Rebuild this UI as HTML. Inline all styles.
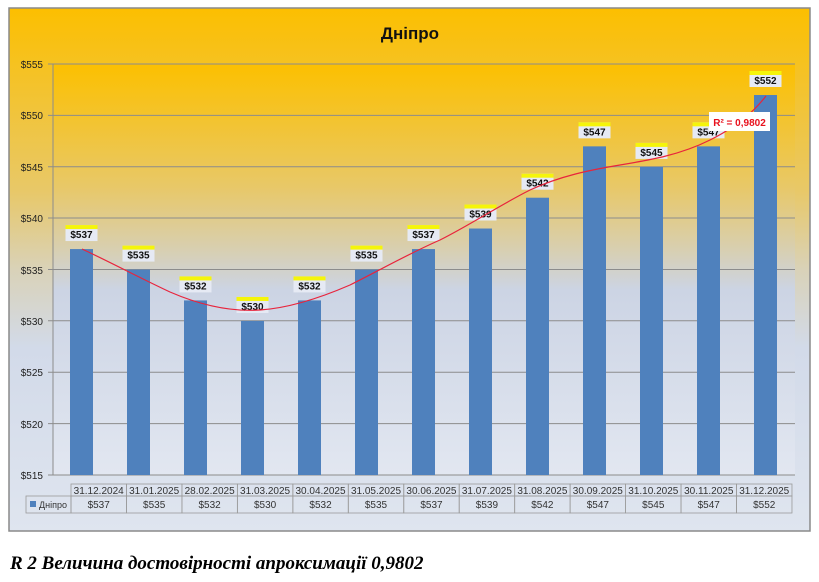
<!DOCTYPE html>
<html><head><meta charset="utf-8"><style>
body{margin:0;width:819px;height:582px;background:#fff;overflow:hidden;font-family:"Liberation Sans",sans-serif}
</style></head><body>
<svg width="819" height="582" xmlns="http://www.w3.org/2000/svg" style="position:absolute;left:0;top:0">
<defs>
<linearGradient id="bg" x1="0" y1="0" x2="0" y2="1">
<stop offset="0" stop-color="#fcbf00"/><stop offset="0.35" stop-color="#e8c868"/><stop offset="0.5" stop-color="#d9d2b8"/><stop offset="0.65" stop-color="#d2dae9"/><stop offset="1" stop-color="#dfe5ef"/></linearGradient>
<linearGradient id="pg" x1="0" y1="0" x2="0" y2="1">
<stop offset="0" stop-color="#fcc000"/><stop offset="0.3" stop-color="#e8c868"/><stop offset="0.45" stop-color="#d8cfb0"/><stop offset="0.55" stop-color="#ccd4e4"/><stop offset="1" stop-color="#e2e7f1"/></linearGradient>
</defs>
<rect x="9" y="8" width="801" height="523" fill="url(#bg)" stroke="#8a8a8a" stroke-width="1.5"/>
<text x="410" y="39" text-anchor="middle" font-size="17" font-weight="bold" fill="#111">Дніпро</text>
<rect x="53" y="64" width="742" height="411" fill="url(#pg)"/>
<g stroke="#8c8c8c" stroke-width="1">
<line x1="48" y1="64" x2="795" y2="64"/><line x1="48" y1="115.4" x2="795" y2="115.4"/><line x1="48" y1="166.7" x2="795" y2="166.7"/><line x1="48" y1="218" x2="795" y2="218"/><line x1="48" y1="269.5" x2="795" y2="269.5"/><line x1="48" y1="320.8" x2="795" y2="320.8"/><line x1="48" y1="372.2" x2="795" y2="372.2"/><line x1="48" y1="475" x2="795" y2="475"/><line x1="48" y1="423.6" x2="795" y2="423.6"/>
<line x1="53" y1="64" x2="53" y2="475"/>
</g>
<g font-size="10" fill="#222" text-anchor="end">
<text x="43" y="68">$555</text><text x="43" y="119">$550</text><text x="43" y="171">$545</text><text x="43" y="222">$540</text><text x="43" y="274">$535</text><text x="43" y="325">$530</text><text x="43" y="376">$525</text><text x="43" y="428">$520</text><text x="43" y="479">$515</text>
</g>
<g id="bars" fill="#4f81bd"></g>
<g id="labels"></g>
<path d="M82,249 C110,262 140,278 170,292 C200,305 230,312 260,310 C290,308 320,298 350,285 C380,270 410,253 440,240 C470,225 500,205 530,190 C560,176 590,170 620,165 C650,160 680,155 710,140 C740,125 755,110 766,96" fill="none" stroke="#e8243c" stroke-width="1.2"/>
<rect x="709" y="112" width="61" height="19" fill="#fff"/>
<text x="739.5" y="126" text-anchor="middle" font-size="10" font-weight="bold" fill="#e8101c">R² = 0,9802</text>
<g id="table" font-size="10" fill="#333" text-anchor="middle"></g>
<text x="10" y="569" font-family="Liberation Serif,serif" font-size="19" font-weight="bold" font-style="italic" fill="#000">R 2 Величина достовірності апроксимації 0,9802</text>
</svg>
<script>
var vals=[537,535,532,530,532,535,537,539,542,547,545,547,552];
var dates=["31.12.2024","31.01.2025","28.02.2025","31.03.2025","30.04.2025","31.05.2025","30.06.2025","31.07.2025","31.08.2025","30.09.2025","31.10.2025","30.11.2025","31.12.2025"];
var ns="http://www.w3.org/2000/svg";
function el(p,t,a,tx){var e=document.createElementNS(ns,t);for(var k in a)e.setAttribute(k,a[k]);if(tx!=null)e.textContent=tx;p.appendChild(e);return e;}
var B=document.getElementById("bars"),L=document.getElementById("labels"),T=document.getElementById("table");
vals.forEach(function(v,i){var cx=81.5+i*57;var y=475-(v-515)*10.27;
el(B,"rect",{x:cx-11.5,y:y,width:23,height:475-y});
el(L,"rect",{x:cx-16,y:y-24,width:32,height:16,fill:"#e6eaf4"});
el(L,"rect",{x:cx-16,y:y-24,width:32,height:4,fill:"#f5f50a"});
el(L,"text",{x:cx,y:y-11,"text-anchor":"middle","font-size":"10","font-weight":"bold",fill:"#111"},"$"+v);
var x0=71+i*55.46;
el(T,"rect",{x:x0,y:484,width:55.46,height:12,fill:"none",stroke:"#9a9a9a","stroke-width":"0.8"});
el(T,"rect",{x:x0,y:496,width:55.46,height:17,fill:"none",stroke:"#9a9a9a","stroke-width":"0.8"});
el(T,"text",{x:x0+27.7,y:494},dates[i]);
el(T,"text",{x:x0+27.7,y:508},"$"+v);
});
el(T,"rect",{x:26,y:496,width:45,height:17,fill:"none",stroke:"#9a9a9a","stroke-width":"0.8"});
el(T,"rect",{x:30,y:501,width:6,height:6,fill:"#4f81bd"});
el(T,"text",{x:53,y:508,"font-size":"9"},"Дніпро");
</script>
</body></html>
